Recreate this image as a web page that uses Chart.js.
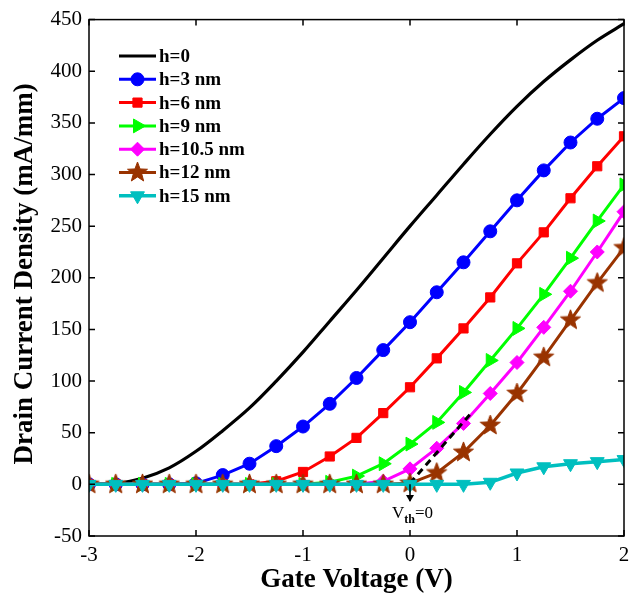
<!DOCTYPE html>
<html>
<head>
<meta charset="utf-8">
<script src="https://cdn.jsdelivr.net/npm/chart.js@4/dist/chart.umd.min.js"></script>
<style>
  body { margin: 0; background: #fff; }
  #wrap { width: 640px; height: 600px; }
</style>
</head>
<body>
<div id="wrap"><canvas id="grafico"></canvas></div>
<script>
// gate voltage, 0.25 V steps
const voltaje = [-3, -2.75, -2.5, -2.25, -2, -1.75, -1.5, -1.25, -1, -0.75, -0.5, -0.25,
  0, 0.25, 0.5, 0.75, 1, 1.25, 1.5, 1.75, 2];

// drain current density (mA/mm)
const h0 = [0, 1, 6, 16, 32, 52, 74, 100, 128, 158, 188, 219, 250, 280, 310, 339, 366, 390, 411, 430, 446];
const h3 = [0, 0, 0, 0, 1, 9, 20, 37, 56, 78, 103, 130, 157, 186, 215, 245, 275, 304, 331, 354, 374];
const h6 = [0, 0, 0, 0, 0, 0, 0, 3, 12, 27, 45, 69, 94, 122, 151, 181, 214, 244, 277, 308, 337];
const h9 = [0, 0, 0, 0, 0, 0, 0, 0, 0, 2, 8, 20, 39, 60, 89, 120, 151, 184, 219, 255, 290];
const h105 = [0, 0, 0, 0, 0, 0, 0, 0, 0, 0, 0, 3, 15, 35, 59, 88, 118, 152, 187, 225, 264];
const h12 = [0, 0, 0, 0, 0, 0, 0, 0, 0, 0, 0, 0, 1, 11, 31, 57, 88, 123, 159, 195, 229];
const h15 = [0, 0, 0, 0, 0, 0, 0, 0, 0, 0, 0, 0, 0, 0, 0, 2, 11, 17, 20, 22, 24];

// linear extrapolation for Vth
const tangenteX = [0, 0.58];
const tangenteY = [1, 70];

const etiquetas = ["h=0", "h=3 nm", "h=6 nm", "h=9 nm", "h=10.5 nm", "h=12 nm", "h=15 nm"];
const ticksX = [-3, -2, -1, 0, 1, 2];
const ticksY = [-50, 0, 50, 100, 150, 200, 250, 300, 350, 400, 450];

function puntos(ys) {
  return ys.map((y, i) => ({ x: voltaje[i], y: y }));
}

// filled 5 point star
function estrella(color, r) {
  const c = document.createElement("canvas");
  const s = Math.ceil(r * 2 + 4);
  c.width = s; c.height = s;
  const g = c.getContext("2d");
  g.fillStyle = color;
  g.strokeStyle = color;
  g.lineWidth = 1;
  g.beginPath();
  for (let i = 0; i < 10; i++) {
    const rr = i % 2 === 0 ? r : r * 0.42;
    const a = -Math.PI / 2 + i * Math.PI / 5;
    const px = s / 2 + rr * Math.cos(a);
    const py = s / 2 + rr * Math.sin(a);
    if (i === 0) g.moveTo(px, py); else g.lineTo(px, py);
  }
  g.closePath();
  g.fill();
  g.stroke();
  return c;
}

const marron = "#993300";
const cian = "#00BFBF";

const series = [
  { label: etiquetas[0], data: puntos(h0), color: "#000000", estilo: false, rot: 0, radio: 0, orden: 8, ancho: 3.2 },
  { label: etiquetas[1], data: puntos(h3), color: "#0000FF", estilo: "circle", rot: 0, radio: 6.5, orden: 7, ancho: 3 },
  { label: etiquetas[2], data: puntos(h6), color: "#FF0000", estilo: "rect", rot: 0, radio: 6.5, orden: 6, ancho: 3 },
  { label: etiquetas[3], data: puntos(h9), color: "#00FF00", estilo: "triangle", rot: 90, radio: 8, orden: 5, ancho: 3 },
  { label: etiquetas[4], data: puntos(h105), color: "#FF00FF", estilo: "rectRot", rot: 0, radio: 7, orden: 4, ancho: 3 },
  { label: etiquetas[5], data: puntos(h12), color: marron, estilo: estrella(marron, 10.5), rot: 0, radio: 10, orden: 3, ancho: 3 },
  { label: etiquetas[6], data: puntos(h15), color: cian, estilo: "triangle", rot: 180, radio: 8, orden: 1, ancho: 3.5 },
];

const datasets = series.map((s) => ({
  label: s.label,
  data: s.data,
  borderColor: s.color,
  backgroundColor: s.color,
  borderWidth: s.ancho,
  pointStyle: s.estilo,
  pointRotation: s.rot,
  pointRadius: s.radio,
  pointBorderWidth: 1,
  pointBackgroundColor: s.color,
  pointBorderColor: s.color,
  tension: s.radio === 0 ? 0.35 : 0,
  order: s.orden,
}));

datasets.push({
  label: "tangente",
  data: tangenteX.map((x, i) => ({ x: x, y: tangenteY[i] })),
  borderColor: "#000000",
  borderWidth: 3,
  borderDash: [7, 5],
  pointRadius: 0,
  order: 2,
});

const serif = "'Liberation Serif', 'Times New Roman', serif";

const marco = {
  id: "marco",
  afterDraw(chart) {
    const { ctx, chartArea: a, scales } = chart;
    const sx = scales.x, sy = scales.y;
    ctx.save();
    ctx.strokeStyle = "#000";
    ctx.lineWidth = 1.5;
    ctx.strokeRect(a.left, a.top, a.right - a.left, a.bottom - a.top);
    ctx.beginPath();
    ticksX.forEach((v) => {
      const px = sx.getPixelForValue(v);
      ctx.moveTo(px, a.bottom); ctx.lineTo(px, a.bottom - 6);
      ctx.moveTo(px, a.top); ctx.lineTo(px, a.top + 6);
    });
    ticksY.forEach((v) => {
      const py = sy.getPixelForValue(v);
      ctx.moveTo(a.left, py); ctx.lineTo(a.left + 6, py);
      ctx.moveTo(a.right, py); ctx.lineTo(a.right - 6, py);
    });
    ctx.stroke();

    // Vth arrow
    const x0 = sx.getPixelForValue(0);
    const y0 = sy.getPixelForValue(0);
    const y1 = sy.getPixelForValue(-16);
    ctx.lineWidth = 1.5;
    ctx.beginPath();
    ctx.moveTo(x0, y0); ctx.lineTo(x0, y1);
    ctx.stroke();
    ctx.fillStyle = "#000";
    ctx.beginPath();
    ctx.moveTo(x0 - 4, y1 - 6); ctx.lineTo(x0 + 4, y1 - 6); ctx.lineTo(x0, y1 + 1);
    ctx.closePath();
    ctx.fill();

    ctx.textBaseline = "alphabetic";
    ctx.textAlign = "left";
    ctx.font = "17px " + serif;
    let tx = x0 - 18;
    const ty = sy.getPixelForValue(-33);
    ctx.fillText("V", tx, ty);
    tx += ctx.measureText("V").width;
    ctx.font = "bold 12px " + serif;
    ctx.fillText("th", tx, ty + 5);
    tx += ctx.measureText("th").width;
    ctx.font = "17px " + serif;
    ctx.fillText("=0", tx, ty);

    // axis titles
    ctx.font = "bold 27px " + serif;
    ctx.textAlign = "center";
    ctx.textBaseline = "middle";
    ctx.fillText("Gate Voltage (V)", (a.left + a.right) / 2, 580);
    ctx.save();
    ctx.translate(25, (a.top + a.bottom) / 2 - 4);
    ctx.rotate(-Math.PI / 2);
    ctx.fillText("Drain Current Density (mA/mm)", 0, 0);
    ctx.restore();

    // legend
    ctx.textAlign = "left";
    ctx.font = "bold 19px " + serif;
    const H = Chart.helpers;
    series.forEach((s, i) => {
      const ly = 56 + i * 23.3;
      ctx.strokeStyle = s.color;
      ctx.lineWidth = s.ancho;
      ctx.beginPath();
      ctx.moveTo(119, ly); ctx.lineTo(156, ly);
      ctx.stroke();
      if (s.estilo && H && H.drawPoint) {
        ctx.fillStyle = s.color;
        ctx.strokeStyle = s.color;
        ctx.lineWidth = 1;
        H.drawPoint(ctx, { pointStyle: s.estilo, rotation: s.rot, radius: s.radio, borderWidth: 1 }, 137.5, ly);
      }
      ctx.fillStyle = "#000";
      ctx.fillText(s.label, 159, ly + 1);
    });
    ctx.restore();
  },
};

const ctx = document.getElementById("grafico").getContext("2d");
const chart = new Chart(ctx, {
  type: "line",
  data: { datasets: datasets },
  options: {
    responsive: true,
    maintainAspectRatio: false,
    animation: false,
    layout: { padding: { top: 17, right: 16, left: 0, bottom: 0 } },
    plugins: {
      legend: { display: false },
      tooltip: { enabled: false },
    },
    scales: {
      x: {
        type: "linear",
        min: -3,
        max: 2,
        afterFit: (s) => { s.height = 64; },
        afterBuildTicks: (s) => { s.ticks = ticksX.map((v) => ({ value: v })); },
        grid: { display: false, drawTicks: false },
        border: { display: false },
        ticks: {
          color: "#000",
          padding: 7,
          font: { family: serif, size: 21 },
          maxRotation: 0,
        },
      },
      y: {
        type: "linear",
        min: -50,
        max: 450,
        afterFit: (s) => { s.width = 89; },
        afterBuildTicks: (s) => { s.ticks = ticksY.map((v) => ({ value: v })); },
        grid: { display: false, drawTicks: false },
        border: { display: false },
        ticks: {
          color: "#000",
          padding: 7,
          font: { family: serif, size: 21 },
        },
      },
    },
  },
  plugins: [marco],
});
</script>
</body>
</html>
